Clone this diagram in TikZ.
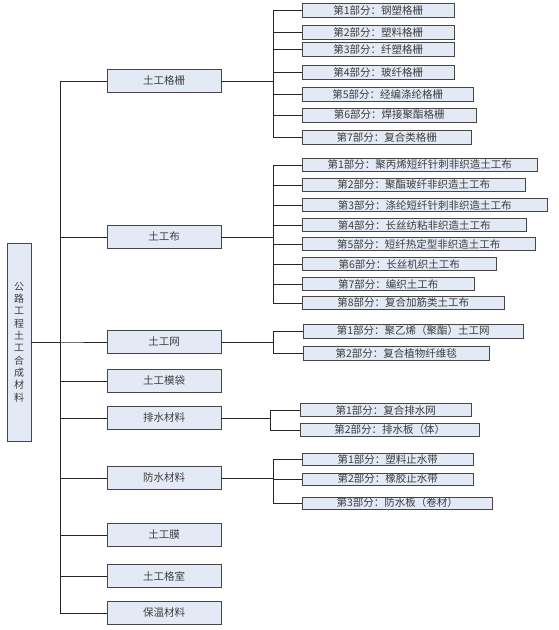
\documentclass[tikz,border=0pt]{standalone}
\usepackage{fontspec}
\setmainfont{Noto Sans CJK SC}
\usetikzlibrary{shadows}
\definecolor{boxfill}{RGB}{228,234,245}
\definecolor{boxline}{RGB}{70,70,70}
\definecolor{txt}{RGB}{60,60,60}
\tikzset{
  bx/.style={draw=boxline, fill=boxfill, line width=0.6pt, inner sep=0pt, text=txt,
    drop shadow={shadow xshift=0.9pt, shadow yshift=-0.9pt, fill=black!55, opacity=1}},
  mainbox/.style={bx, minimum width=114pt, minimum height=23pt, font=\fontsize{10.5}{12}\selectfont},
  subbox/.style={bx, anchor=west, minimum height=14pt, font=\fontsize{10.5}{12}\selectfont},
  rootbox/.style={bx, minimum width=24pt, minimum height=198pt, align=center, font=\fontsize{10}{12.3}\selectfont},
  conn/.style={draw=black!85, line width=0.7pt}
}
\begin{document}
\begin{tikzpicture}[x=1pt,y=-1pt]
\useasboundingbox (0,0) rectangle (559,630);
% root
\node[rootbox] (root) at (19,342) {公\\路\\工\\程\\土\\工\\合\\成\\材\\料};
\coordinate (trunk) at (60,0);
% level 1
\node[mainbox] (g1) at (164,81) {土工格栅};
\node[mainbox] (g2) at (164,237) {土工布};
\node[mainbox] (g3) at (164,342) {土工网};
\node[mainbox] (g4) at (164,381) {土工模袋};
\node[mainbox] (g5) at (164,418) {排水材料};
\node[mainbox] (g6) at (164,478) {防水材料};
\node[mainbox] (g7) at (164,535) {土工膜};
\node[mainbox] (g8) at (164,576) {土工格室};
\node[mainbox] (g9) at (164,613) {保温材料};
% group 1
\node[subbox, minimum width=152pt] (a1) at (302,10) {第1部分：钢塑格栅};
\node[subbox, minimum width=152pt] (a2) at (302,32) {第2部分：塑料格栅};
\node[subbox, minimum width=152pt] (a3) at (302,49) {第3部分：纤塑格栅};
\node[subbox, minimum width=152pt] (a4) at (302,72) {第4部分：玻纤格栅};
\node[subbox, minimum width=171pt] (a5) at (302,94) {第5部分：经编涤纶格栅};
\node[subbox, minimum width=174pt] (a6) at (302,115) {第6部分：焊接聚酯格栅};
\node[subbox, minimum width=169pt] (a7) at (302,137) {第7部分：复合类格栅};
% group 2
\node[subbox, minimum width=235pt, minimum height=13pt] (b1) at (302,165) {第1部分：聚丙烯短纤针刺非织造土工布};
\node[subbox, minimum width=223pt, minimum height=13pt] (b2) at (302,185) {第2部分：聚酯玻纤非织造土工布};
\node[subbox, minimum width=245pt, minimum height=13pt] (b3) at (302,205) {第3部分：涤纶短纤针刺非织造土工布};
\node[subbox, minimum width=224pt, minimum height=13pt] (b4) at (302,225) {第4部分：长丝纺粘非织造土工布};
\node[subbox, minimum width=233pt, minimum height=13pt] (b5) at (302,244) {第5部分：短纤热定型非织造土工布};
\node[subbox, minimum width=194pt, minimum height=13pt] (b6) at (302,264) {第6部分：长丝机织土工布};
\node[subbox, minimum width=172pt, minimum height=13pt] (b7) at (302,284) {第7部分：编织土工布};
\node[subbox, minimum width=202pt, minimum height=13pt] (b8) at (302,303) {第8部分：复合加筋类土工布};
% group 3
\node[subbox, minimum width=220pt] (c1) at (303,331) {第1部分：聚乙烯（聚酯）土工网};
\node[subbox, minimum width=186pt] (c2) at (303,353) {第2部分：复合植物纤维毯};
% group 5
\node[subbox, minimum width=171pt, minimum height=13pt] (d1) at (300,410) {第1部分：复合排水网};
\node[subbox, minimum width=179pt, minimum height=13pt] (d2) at (300,430) {第2部分：排水板（体）};
% group 6
\node[subbox, minimum width=171pt, minimum height=12pt] (e1) at (302,459) {第1部分：塑料止水带};
\node[subbox, minimum width=171pt, minimum height=12pt] (e2) at (302,479) {第2部分：橡胶止水带};
\node[subbox, minimum width=190pt, minimum height=12pt] (e3) at (302,503) {第3部分：防水板（卷材）};
% trunk connectors
\foreach \n in {g1,g2,g3,g4,g5,g6,g7,g8,g9}
  \draw[conn] (root.east) -- (trunk |- root.east) |- (\n.west);
% brackets
\coordinate (ba) at (273,0);
\coordinate (bb) at (273,0);
\coordinate (bc) at (273,0);
\coordinate (bd) at (270,0);
\coordinate (be) at (273,0);
\foreach \n in {a1,a2,a3,a4,a5,a6,a7}
  \draw[conn] (g1.east) -- (ba |- g1.east) |- (\n.west);
\foreach \n in {b1,b2,b3,b4,b5,b6,b7,b8}
  \draw[conn] (g2.east) -- (bb |- g2.east) |- (\n.west);
\foreach \n in {c1,c2}
  \draw[conn] (g3.east) -- (bc |- g3.east) |- (\n.west);
\foreach \n in {d1,d2}
  \draw[conn] (g5.east) -- (bd |- g5.east) |- (\n.west);
\foreach \n in {e1,e2,e3}
  \draw[conn] (g6.east) -- (be |- g6.east) |- (\n.west);
\end{tikzpicture}
\end{document}
